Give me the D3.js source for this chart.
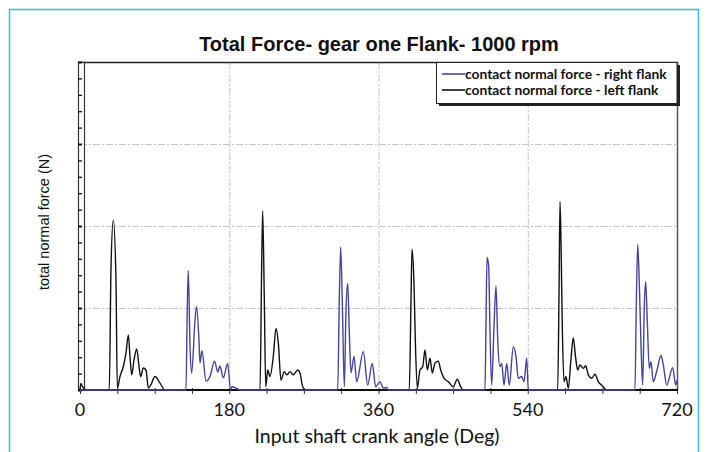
<!DOCTYPE html>
<head>
  <meta charset="utf-8" />
  <script src="https://d3js.org/d3.v7.min.js"></script>
  <style>
    body { margin: 0; background: #fff; }
    text { fill: #111; }
  </style>
</head>
<body>
<script>
  // crank angle (deg) / force (arbitrary, axis has no numbers)
  var leftAngle = [0, 1, 3, 5, 7,
    35.3, 37.4, 40.2, 43.4, 45.0, 48.2, 52.2, 55.5, 58.3, 60.3, 62.4, 65.1, 68.4, 71.2, 73.2, 76.3, 79.6, 82.4, 85.3, 90.5, 96.5, 102.5,
    217.1, 219.1, 220.3, 222.3, 224.0, 226.4, 229.1, 233.1, 236.4, 239.2, 242.4, 246.4, 249.3, 253.3, 257.2, 262.5, 265.3, 268.1, 271.4,
    397.1, 399.2, 400.4, 402.8, 404.4, 406.8, 410.0, 413.3, 416.1, 418.9, 422.1, 424.9, 428.1, 432.1, 435.0, 439.0, 444.2, 450.2, 455.0, 459.1, 462.3,
    576.1, 577.7, 578.9, 580.1, 581.7, 583.7, 586.1, 588.9, 592.2, 594.9, 597.8, 600.2, 603.0, 607.0, 609.9, 613.0, 617.1, 621.1, 625.1, 629.9, 635.2,
    720];
  var leftForce = [0, 2, 1, 0.5, 0,
    0, 37.6, 51.8, 33.5, 0.6, 4.1, 7.1, 11.3, 16.8, 10.2, 4.6, 9.1, 12.5, 7.1, 4.1, 6.7, 6.1, 0.6, 1.5, 4.1, 2.1, 0,
    0, 37.6, 54.6, 27.4, 1.0, 6.1, 4.1, 10.2, 18.8, 14.3, 3.0, 5.6, 4.6, 5.6, 4.6, 6.1, 5.2, 1.5, 0,
    0, 27.4, 42.9, 32.5, 15.2, 0.5, 6.1, 7.1, 12.2, 6.1, 9.7, 5.2, 8.2, 8.8, 6.1, 3.6, 2.5, 1.0, 3.3, 1.0, 0,
    0, 29.0, 57.4, 45.2, 18.8, 2.5, 4.1, 0.5, 9.7, 15.9, 9.7, 6.1, 7.6, 6.6, 7.4, 4.6, 3.6, 4.8, 2.5, 1.3, 0,
    0];

  var rightAngle = [0,
    127.8, 129.4, 130.6, 132.7, 134.7, 138.7, 140.5, 143.5, 144.7, 147.1, 152.0, 156.8, 162.2, 166.2, 168.8, 172.8, 178.1, 181.5, 183.3, 188.1, 193,
    310.8, 312.7, 314.4, 316.3, 318.8, 320.8, 322.9, 324.8, 326.8, 330.5, 333.7, 341.7, 347.0, 352.5, 356.6, 361.8, 365.8, 369.9, 371.8,
    488.4, 489.6, 490.9, 492.9, 494.5, 496.5, 499.3, 501.7, 503.8, 506.5, 508.6, 511.4, 514.6, 517.7, 522.6, 525.8, 528.6, 532.7, 535.5, 538.7, 540.7,
    669.3, 670.9, 672.6, 674.5, 676.6, 678.6, 680.6, 682.2, 684.2, 686.6, 688.6, 691.4, 695.9, 700.7, 703.5, 707.6, 714.8, 718.4, 720];
  var rightForce = [0,
    0, 25.4, 36.4, 13.2, 5.2, 21.3, 25.5, 15.2, 8.2, 12.0, 2.7, 4.1, 8.8, 5.5, 7.3, 3.7, 8.1, 0, 1, 0.6, 0,
    0, 27.4, 43.5, 27.4, 1.0, 24.4, 32.5, 17.4, 5.2, 10.2, 2.5, 11.7, 1.5, 8.1, 1.0, 2.5, 0.6, 0.8, 0,
    0, 19.3, 40.5, 37.6, 17.4, 1.5, 19.3, 31.7, 15.2, 7.1, 8.1, 1.5, 8.1, 1.5, 13.2, 10.2, 3.6, 4.1, 2.5, 9.7, 0,
    0, 25.9, 44.4, 33.0, 13.7, 1.5, 25.9, 33.1, 20.8, 6.6, 8.6, 2.5, 6.1, 10.5, 7.6, 1.5, 6.8, 1.5, 3.0];

  var xLabels = [0, 180, 360, 540, 720];
  var seriesNames = ["contact normal force - right flank", "contact normal force - left flank"];
  var seriesColors = ["#45459a", "#111"];

  var width = 707, height = 452;
  var svg = d3.select("body").append("svg").attr("width", width).attr("height", height);

  // outer frame of the figure
  svg.append("rect").attr("x", 9.5).attr("y", 9.5).attr("width", 689).attr("height", 460)
    .attr("fill", "none").attr("stroke", "#45b5dc").attr("stroke-width", 1.5);

  var x = d3.scaleLinear().domain([0, 720]).range([80, 677]);
  var y = d3.scaleLinear().domain([0, 100]).range([390, 62]);

  // grid
  var grid = svg.append("g").attr("stroke", "#c4c4c4").attr("stroke-dasharray", "7,2,2,2");
  grid.selectAll(".gx").data([180, 360, 540]).join("line")
    .attr("x1", d => x(d) + 0.5).attr("x2", d => x(d) + 0.5).attr("y1", y(100)).attr("y2", y(0));
  grid.selectAll(".gy").data([25, 50, 75]).join("line")
    .attr("y1", d => y(d) + 0.5).attr("y2", d => y(d) + 0.5).attr("x1", x(0)).attr("x2", x(720));

  // top and right border
  svg.append("line").attr("x1", 78).attr("x2", 678).attr("y1", 62.5).attr("y2", 62.5)
    .attr("stroke", "#222").attr("stroke-width", 1.5);
  svg.append("line").attr("x1", 677.5).attr("x2", 677.5).attr("y1", 62).attr("y2", 391)
    .attr("stroke", "#555").attr("stroke-width", 1.5);

  // y axis: double bar with ticks, no numbers
  svg.append("rect").attr("x", 78.5).attr("y", 62.5).attr("width", 6).attr("height", 327)
    .attr("fill", "#fff").attr("stroke", "#333").attr("stroke-width", 1.2);
  var yAxis = d3.axisRight(y).tickValues(d3.range(0, 101, 5)).tickSize(4).tickFormat("");
  var ya = svg.append("g").attr("transform", "translate(78,0)").call(yAxis);
  ya.select(".domain").remove();
  ya.selectAll(".tick line").attr("stroke", "#111").attr("stroke-width", d => d % 25 === 0 ? 2 : 1.3);

  // x axis
  var xAxis = d3.axisBottom(x).tickValues(d3.range(0, 721, 45)).tickSize(4).tickFormat("");
  var xa = svg.append("g").attr("transform", "translate(0,390)").call(xAxis);
  xa.select(".domain").remove();
  xa.selectAll(".tick line").attr("stroke", "#333").attr("stroke-width", 1).attr("y1", -2);
  svg.append("line").attr("x1", 78).attr("x2", 678).attr("y1", 390).attr("y2", 390)
    .attr("stroke", "#111").attr("stroke-width", 2);
  svg.append("g").selectAll("text").data(xLabels).join("text")
    .attr("x", d => x(d)).attr("y", 416).attr("text-anchor", "middle")
    .style("font-family", "Lato, 'Open Sans', sans-serif").style("font-size", "18px")
    .text(d => d);

  // series
  var line = d3.line().x(d => x(d[0])).y(d => y(d[1])).curve(d3.curveMonotoneX);
  var leftData = leftAngle.map((a, i) => [a, leftForce[i]]);
  var rightData = rightAngle.map((a, i) => [a, rightForce[i]]);
  svg.append("path").datum(leftData).attr("d", line).attr("fill", "none")
    .attr("stroke", seriesColors[1]).attr("stroke-width", 1.4).attr("stroke-linejoin", "round");
  svg.append("path").datum(rightData).attr("d", line).attr("fill", "none")
    .attr("stroke", seriesColors[0]).attr("stroke-width", 1.4).attr("stroke-linejoin", "round");

  // title and axis titles
  svg.append("text").attr("x", 379).attr("y", 51).attr("text-anchor", "middle")
    .style("font-family", "'Liberation Sans', Arial, sans-serif").style("font-size", "20px")
    .style("font-weight", "bold").text("Total Force- gear one Flank- 1000 rpm");
  svg.append("text").attr("x", 377).attr("y", 443).attr("text-anchor", "middle")
    .style("font-family", "Lato, 'Open Sans', sans-serif").style("font-size", "19.5px")
    .text("Input shaft crank angle (Deg)");
  svg.append("text").attr("transform", "translate(49,222) rotate(-90)").attr("text-anchor", "middle")
    .style("font-family", "'Liberation Sans', Arial, sans-serif").style("font-size", "14.5px")
    .text("total normal force (N)");

  // legend
  var lg = svg.append("g");
  lg.append("rect").attr("x", 439).attr("y", 65).attr("width", 241).attr("height", 41).attr("fill", "#222");
  lg.append("rect").attr("x", 436.5).attr("y", 62.5).attr("width", 240.5).attr("height", 41)
    .attr("fill", "#fff").attr("stroke", "#222").attr("stroke-width", 1);
  seriesNames.forEach(function (name, i) {
    var ly = 74 + i * 16;
    lg.append("line").attr("x1", 442).attr("x2", 465).attr("y1", ly).attr("y2", ly)
      .attr("stroke", seriesColors[i]).attr("stroke-width", 1.6);
    lg.append("text").attr("x", 465).attr("y", ly + 4.5)
      .style("font-family", "Lato, sans-serif").style("font-size", "13.8px").style("font-weight", "bold")
      .text(name);
  });
</script>
</body>
